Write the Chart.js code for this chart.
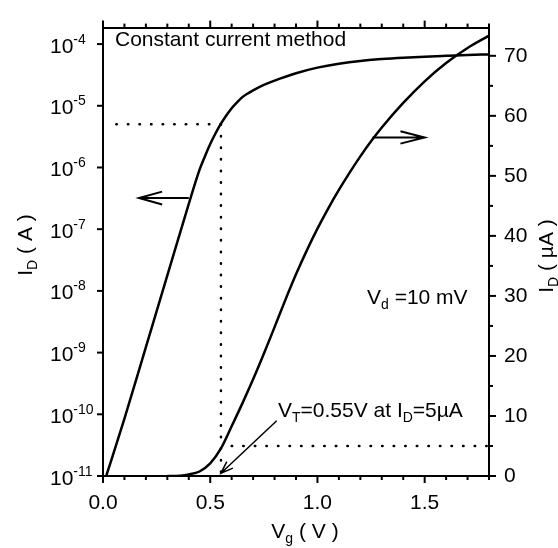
<!DOCTYPE html>
<html><head><meta charset="utf-8">
<script src="https://cdn.jsdelivr.net/npm/chart.js@4.4.0/dist/chart.umd.min.js"></script>
<style>html,body{margin:0;padding:0;background:#fff;} #wrap{width:558px;height:548px;position:relative;}</style>
</head><body><div id="wrap"><canvas id="c"></canvas></div>
<script>
// ---- data ----
const vgLog = [0.015, 0.1, 0.2, 0.3, 0.4, 0.45, 0.475, 0.5, 0.525, 0.55, 0.575, 0.6, 0.625, 0.65, 0.675, 0.7, 0.75, 0.8, 0.9, 1.0, 1.1, 1.2, 1.3, 1.4, 1.5, 1.6, 1.7, 1.8];
const idLogA = [1e-11, 8.5e-11, 1.23e-9, 1.78e-8, 2.57e-7, 9.12e-7, 1.51e-6, 2.40e-6, 3.59e-6, 5.13e-6, 6.95e-6, 9.12e-6, 1.138e-5, 1.38e-5, 1.585e-5, 1.78e-5, 2.18e-5, 2.56e-5, 3.37e-5, 4.15e-5, 4.81e-5, 5.34e-5, 5.72e-5, 6.02e-5, 6.26e-5, 6.46e-5, 6.65e-5, 6.80e-5];
const vgLin = [0.3, 0.36, 0.4, 0.45, 0.5, 0.55, 0.6, 0.65, 0.7, 0.75, 0.8, 0.85, 0.9, 0.95, 1.0, 1.05, 1.1, 1.15, 1.2, 1.25, 1.3, 1.4, 1.5, 1.6, 1.7, 1.8];
const idLinUA = [0, 0.05, 0.25, 0.75, 2.1, 4.6, 8.3, 12.1, 16.1, 20.35, 24.8, 29.3, 33.6, 37.55, 41.2, 44.55, 47.65, 50.55, 53.25, 55.75, 58.05, 62.15, 65.75, 68.8, 71.3, 73.35];

// threshold markers
const vtV = [0.55];
const vtIdA = [5e-6];
const vtIdUA = [5];

// ticks
const xMajor = [0, 0.5, 1.0, 1.5];
const xMajorLabels = ['0.0', '0.5', '1.0', '1.5'];
const xMinor = [0.1, 0.2, 0.3, 0.4, 0.6, 0.7, 0.8, 0.9, 1.1, 1.2, 1.3, 1.4, 1.6, 1.7, 1.8];
const logExps = [-11, -10, -9, -8, -7, -6, -5, -4];
const rMajor = [0, 10, 20, 30, 40, 50, 60, 70];
const rMinor = [5, 15, 25, 35, 45, 55, 65];

const FONT = '"Liberation Sans", Arial, Helvetica, sans-serif';
Chart.defaults.font.family = FONT;
Chart.defaults.font.size = 21;
Chart.defaults.color = '#000';

function rich(ctx, x, y, parts) {
  for (const [t, k] of parts) {
    ctx.font = (k === 'n' ? '21px ' : '14px ') + FONT;
    const dy = k === 'sub' ? 5 : (k === 'sup' ? -9 : 0);
    ctx.fillText(t, x, y + dy);
    x += ctx.measureText(t).width;
  }
  return x;
}
function richWidth(ctx, parts) {
  let w = 0;
  for (const [t, k] of parts) { ctx.font = (k === 'n' ? '21px ' : '14px ') + FONT; w += ctx.measureText(t).width; }
  return w;
}
function arrow(ctx, x1, y1, x2, y2, len, ang, lw) {
  ctx.lineWidth = lw;
  ctx.beginPath(); ctx.moveTo(x1, y1); ctx.lineTo(x2, y2);
  const a = Math.atan2(y2 - y1, x2 - x1);
  ctx.moveTo(x2 - len * Math.cos(a - ang), y2 - len * Math.sin(a - ang));
  ctx.lineTo(x2, y2);
  ctx.lineTo(x2 - len * Math.cos(a + ang), y2 - len * Math.sin(a + ang));
  ctx.stroke();
}

const deco = {
  id: 'deco',
  afterDraw(chart) {
    const { ctx, chartArea: a, scales } = chart;
    const X = scales.x, YL = scales.y, YR = scales.yR;
    ctx.save();
    ctx.strokeStyle = '#000'; ctx.fillStyle = '#000'; ctx.lineCap = 'butt';
    const seg = (x1, y1, x2, y2) => { ctx.beginPath(); ctx.moveTo(x1, y1); ctx.lineTo(x2, y2); ctx.stroke(); };
    ctx.lineWidth = 2;
    // x ticks (bottom + top, outward)
    xMajor.forEach(v => { const p = X.getPixelForValue(v); seg(p, a.bottom, p, a.bottom + 7); seg(p, a.top, p, a.top - 7); });
    xMinor.forEach(v => { const p = X.getPixelForValue(v); seg(p, a.bottom, p, a.bottom + 4); seg(p, a.top, p, a.top - 4); });
    // left log ticks
    logExps.forEach(e => { const p = YL.getPixelForValue(Math.pow(10, e)); seg(a.left - 6, p, a.left, p); });
    // right ticks
    rMajor.forEach(v => { const p = YR.getPixelForValue(v); seg(a.right, p, a.right + 7, p); });
    rMinor.forEach(v => { const p = YR.getPixelForValue(v); seg(a.right, p, a.right + 4, p); });

    // left tick labels 10^n
    ctx.textBaseline = 'alphabetic'; ctx.textAlign = 'left';
    logExps.forEach(e => {
      const p = YL.getPixelForValue(Math.pow(10, e));
      rich(ctx, 50, p + 8.5, [['10', 'n'], [String(e), 'sup']]);
    });

    // axis titles
    const xt = [['V', 'n'], ['g', 'sub'], [' ( V )', 'n']];
    rich(ctx, 305 - richWidth(ctx, xt) / 2, 538, xt);
    const lt = [['I', 'n'], ['D', 'sub'], [' ( A )', 'n']];
    ctx.save(); ctx.translate(32, 245); ctx.rotate(-Math.PI / 2);
    rich(ctx, -richWidth(ctx, lt) / 2, 0, lt); ctx.restore();
    const rt = [['I', 'n'], ['D', 'sub'], [' ( \u00b5A )', 'n']];
    ctx.save(); ctx.translate(553, 256); ctx.rotate(-Math.PI / 2);
    rich(ctx, -richWidth(ctx, rt) / 2, 0, rt); ctx.restore();

    // annotations
    rich(ctx, 115, 46, [['Constant current method', 'n']]);
    rich(ctx, 367, 304, [['V', 'n'], ['d', 'sub'], [' =10 mV', 'n']]);
    rich(ctx, 278, 417, [['V', 'n'], ['T', 'sub'], ['=0.55V at I', 'n'], ['D', 'sub'], ['=5\u00b5A', 'n']]);

    // arrows (in data coordinates)
    const yl = YL.getPixelForValue(3.2e-7);
    arrow(ctx, X.getPixelForValue(0.40), yl, X.getPixelForValue(0.168), yl, 24, 0.27, 2);
    const yr = YR.getPixelForValue(56.4);
    arrow(ctx, X.getPixelForValue(1.257), yr, X.getPixelForValue(1.5), yr, 25, 0.25, 2);
    arrow(ctx, X.getPixelForValue(0.81), YR.getPixelForValue(9.2), X.getPixelForValue(vtV[0]), YR.getPixelForValue(0.45), 13, 0.35, 1.5);
    ctx.restore();
  }
};

const dotStyle = { borderColor: '#000', borderWidth: 2.5, borderDash: [0.5, 11.07], borderCapStyle: 'round', pointRadius: 0, fill: false, tension: 0 };

new Chart(document.getElementById('c'), {
  type: 'line',
  data: {
    datasets: [
      Object.assign({ label: 'dotA', xAxisID: 'x', yAxisID: 'y', data: [{ x: vtV[0], y: vtIdA[0] }, { x: 0.05, y: vtIdA[0] }] }, dotStyle),
      Object.assign({ label: 'dotV', xAxisID: 'x', yAxisID: 'y', data: [{ x: vtV[0], y: vtIdA[0] }, { x: vtV[0], y: 1e-11 }] }, dotStyle),
      Object.assign({ label: 'dotR', xAxisID: 'x', yAxisID: 'yR', data: [{ x: 0.6, y: vtIdUA[0] }, { x: 1.8, y: vtIdUA[0] }] }, dotStyle),
      { label: 'ID (A)', xAxisID: 'x', yAxisID: 'y', data: vgLog.map((v, i) => ({ x: v, y: idLogA[i] })),
        borderColor: '#000', borderWidth: 2.5, pointRadius: 0, fill: false, cubicInterpolationMode: 'monotone' },
      { label: 'ID (uA)', xAxisID: 'x', yAxisID: 'yR', data: vgLin.map((v, i) => ({ x: v, y: idLinUA[i] })),
        borderColor: '#000', borderWidth: 2.5, pointRadius: 0, fill: false, cubicInterpolationMode: 'monotone' }
    ]
  },
  options: {
    responsive: true, maintainAspectRatio: false, animation: false,
    layout: { padding: { top: 15, left: 0, right: 0, bottom: 0 } },
    plugins: { legend: { display: false }, tooltip: { enabled: false } },
    scales: {
      x: { type: 'linear', position: 'bottom', min: 0, max: 1.8,
        afterBuildTicks: s => { s.ticks = xMajor.map(v => ({ value: v })); },
        afterFit: s => { s.height = 72; },
        ticks: { callback: v => xMajorLabels[xMajor.indexOf(v)], padding: 15, maxRotation: 0, autoSkip: false, color: '#000', font: { size: 21 } },
        grid: { display: true, drawOnChartArea: false, drawTicks: false },
        border: { display: true, color: '#000', width: 2 } },
      x2: { type: 'linear', position: 'top', min: 0, max: 1.8,
        afterFit: s => { s.height = 0; },
        ticks: { display: false },
        grid: { display: true, drawOnChartArea: false, drawTicks: false },
        border: { display: true, color: '#000', width: 2 } },
      y: { type: 'logarithmic', position: 'left', min: 1e-11, max: 1.85e-4,
        afterBuildTicks: s => { s.ticks = logExps.map(e => ({ value: Math.pow(10, e) })); },
        afterFit: s => { s.width = 103; },
        ticks: { display: false },
        grid: { display: true, drawOnChartArea: false, drawTicks: false },
        border: { display: true, color: '#000', width: 2 } },
      yR: { type: 'linear', position: 'right', min: 0, max: 74.7,
        afterBuildTicks: s => { s.ticks = rMajor.map(v => ({ value: v })); },
        afterFit: s => { s.width = 69; },
        ticks: { callback: v => String(v), padding: 15, color: '#000', font: { size: 21 } },
        grid: { display: true, drawOnChartArea: false, drawTicks: false },
        border: { display: true, color: '#000', width: 2 } }
    }
  },
  plugins: [deco]
});
</script>
</body></html>
